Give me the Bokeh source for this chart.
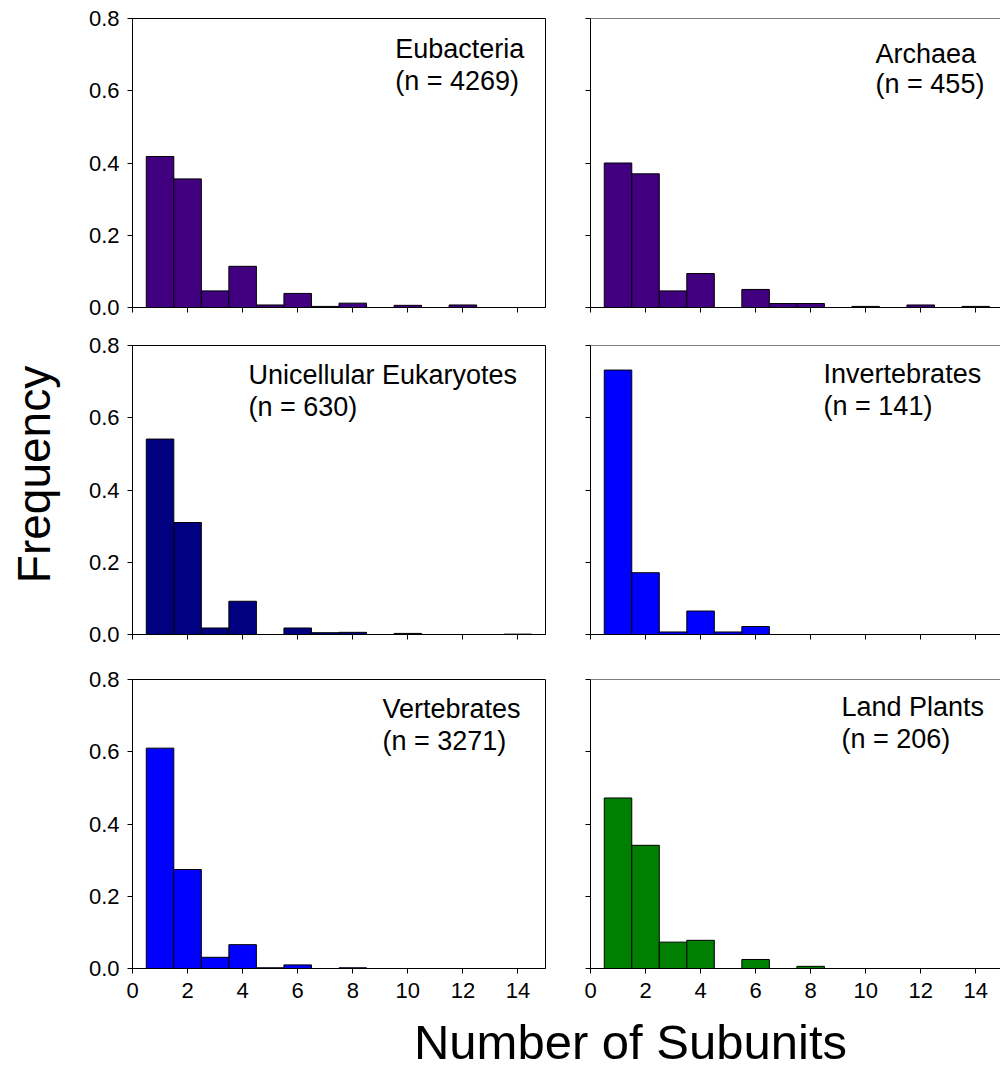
import math
from bokeh.plotting import figure
from bokeh.models import (Range1d, FixedTicker, NumeralTickFormatter, Label, Span,
                          CustomJSTickFormatter)
from bokeh.layouts import row, column
from bokeh.embed import file_html
from bokeh.resources import INLINE

# ---------------- data ----------------
subunits = list(range(1, 15))
x_ticks = [0, 2, 4, 6, 8, 10, 12, 14]
y_ticks = [0.0, 0.2, 0.4, 0.6, 0.8]

eubacteria = [0.418, 0.356, 0.046, 0.114, 0.007, 0.039, 0.003, 0.012, 0.0, 0.006, 0.0, 0.007, 0.0, 0.0]
archaea = [0.400, 0.370, 0.046, 0.094, 0.0, 0.050, 0.011, 0.011, 0.0, 0.003, 0.0, 0.007, 0.0, 0.003]
unicellular = [0.541, 0.310, 0.018, 0.092, 0.0, 0.018, 0.005, 0.006, 0.0, 0.003, 0.0, 0.0, 0.0, 0.001]
invertebrates = [0.732, 0.171, 0.007, 0.065, 0.007, 0.022, 0.0, 0.0, 0.0, 0.0, 0.0, 0.0, 0.0, 0.0]
vertebrates = [0.610, 0.274, 0.031, 0.066, 0.002, 0.010, 0.0, 0.002, 0.0, 0.0, 0.0, 0.0, 0.0, 0.0]
land_plants = [0.472, 0.341, 0.073, 0.078, 0.0, 0.025, 0.0, 0.006, 0.0, 0.0, 0.0, 0.0, 0.0, 0.0]

names = ["Eubacteria", "Archaea", "Unicellular Eukaryotes", "Invertebrates", "Vertebrates", "Land Plants"]
counts = [4269, 455, 630, 141, 3271, 206]
series = [eubacteria, archaea, unicellular, invertebrates, vertebrates, land_plants]
colors = ["#400080", "#400080", "#000080", "#0000FF", "#0000FF", "#008000"]

# label anchor positions (data units): x, line 1, line 2
label_pos = [(9.54, 0.716, 0.628), (10.36, 0.703, 0.618), (4.21, 0.719, 0.631),
             (8.47, 0.721, 0.633), (9.08, 0.719, 0.631), (9.12, 0.723, 0.636)]

FONT = "Liberation Sans"

# ---------------- layout geometry ----------------
FRAME_H = 289
row_borders = [(18, 19), (19, 22), (23, 44)]  # (top, bottom)
LEFT_W, RIGHT_W = 479, 453
XLAB_H = 58
FREQ_W = 68


def make_panel(i):
    r, c = divmod(i, 2)
    top, bottom = row_borders[r]
    if c == 0:
        xr = Range1d(0, 15)
        w = LEFT_W
        mbl, mbr = 64, 2
    else:
        xr = Range1d(0, 14.9)
        w = RIGHT_W
        mbl, mbr = 43, 0
    p = figure(width=w, height=top + FRAME_H + bottom, x_range=xr, y_range=Range1d(0, 0.8),
               output_backend="svg", toolbar_location=None,
               min_border_left=mbl, min_border_right=mbr,
               min_border_top=top, min_border_bottom=bottom)
    p.vbar(x=subunits, top=series[i], width=1, bottom=0,
           fill_color=colors[i], line_color="black", line_width=1)
    p.grid.visible = False
    p.background_fill_color = "white"
    p.border_fill_color = "white"
    for ax in (p.xaxis[0], p.yaxis[0]):
        ax.major_tick_in = 0
        ax.major_tick_out = 5
        ax.minor_tick_line_color = None
        ax.axis_line_color = "black"
        ax.major_tick_line_color = "black"
        ax.major_label_text_font = FONT
        ax.major_label_text_font_size = "22px"
        ax.major_label_text_color = "black"
    p.xaxis.ticker = FixedTicker(ticks=x_ticks)
    p.yaxis.ticker = FixedTicker(ticks=y_ticks)
    p.yaxis.formatter = NumeralTickFormatter(format="0.0")
    p.yaxis.major_label_standoff = 8
    p.xaxis.major_label_standoff = 9
    if r < 2:
        p.xaxis.formatter = CustomJSTickFormatter(code="return ''")
    if c == 1:
        p.yaxis.formatter = CustomJSTickFormatter(code="return ''")
        p.outline_line_color = None
        p.add_layout(Span(location=0.8, dimension="width", line_color="black", line_width=1))
    else:
        p.outline_line_color = "black"
        p.outline_line_width = 1
    lx, ly1, ly2 = label_pos[i]
    p.add_layout(Label(x=lx, y=ly1, text=names[i], text_font=FONT, text_font_size="27px",
                       text_align="left", text_baseline="alphabetic", text_color="black"))
    p.add_layout(Label(x=lx, y=ly2, text="(n = %d)" % counts[i], text_font=FONT,
                       text_font_size="27px", text_align="left", text_baseline="alphabetic",
                       text_color="black"))
    return p


panels = [make_panel(i) for i in range(6)]

TOTAL_H = sum(t + FRAME_H + b for t, b in row_borders) + XLAB_H

freq = figure(width=FREQ_W, height=TOTAL_H, x_range=Range1d(0, FREQ_W), y_range=Range1d(0, TOTAL_H),
              output_backend="svg", toolbar_location=None, min_border=0)
freq.axis.visible = False
freq.grid.visible = False
freq.outline_line_color = None
freq.add_layout(Label(x=33, y=TOTAL_H - 474, text="Frequency", angle=math.pi / 2,
                      text_font=FONT, text_font_size="46px", text_align="center",
                      text_baseline="alphabetic", text_color="black"))

xlab = figure(width=LEFT_W + RIGHT_W, height=XLAB_H, x_range=Range1d(0, LEFT_W + RIGHT_W),
              y_range=Range1d(0, XLAB_H), output_backend="svg", toolbar_location=None, min_border=0)
xlab.axis.visible = False
xlab.grid.visible = False
xlab.outline_line_color = None
xlab.add_layout(Label(x=562, y=29, text="Number of Subunits", text_font=FONT,
                      text_font_size="49px", text_align="center", text_baseline="alphabetic",
                      text_color="black"))

layout = row(freq, column(row(panels[0], panels[1]), row(panels[2], panels[3]),
                          row(panels[4], panels[5]), xlab))

open("out.html", "w").write(file_html(layout, INLINE))
